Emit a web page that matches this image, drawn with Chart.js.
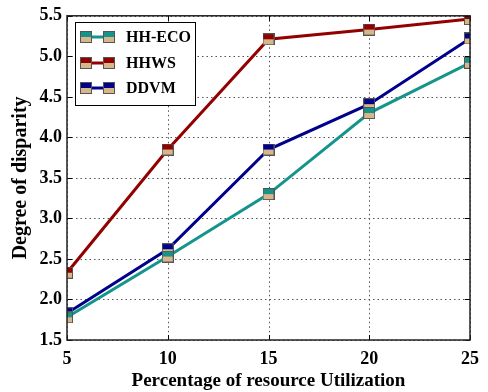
<!DOCTYPE html>
<html><head><meta charset="utf-8">
<script src="https://cdn.jsdelivr.net/npm/chart.js@4.4.0/dist/chart.umd.min.js"></script>
<style>html,body{margin:0;padding:0;background:#fff}#wrap{width:488px;height:392px}</style>
</head><body><div id="wrap"><canvas id="c" width="488" height="392"></canvas></div>
<script>
const xValues = [5, 10, 15, 20, 25];
const hhEco = [1.78, 2.53, 3.30, 4.30, 4.92];
const hhws = [2.33, 3.85, 5.21, 5.33, 5.46];
const ddvm = [1.83, 2.62, 3.85, 4.41, 5.22];
const seriesNames = ['HH-ECO', 'HHWS', 'DDVM'];
const seriesColors = ['#14948a', '#930000', '#00008c'];
const yTicks = [1.5, 2.0, 2.5, 3.0, 3.5, 4.0, 4.5, 5.0, 5.5];
const TAN = '#d7b689';

function makeMarker(color, s) {
  const c = document.createElement('canvas');
  c.width = s; c.height = s;
  const g = c.getContext('2d');
  g.fillStyle = color; g.fillRect(0, 0, s, s / 2);
  g.fillStyle = TAN; g.fillRect(0, s / 2, s, s / 2);
  g.strokeStyle = '#555'; g.lineWidth = 1;
  g.strokeRect(0.5, 0.5, s - 1, s - 1);
  return c;
}
const markers = seriesColors.map(c => makeMarker(c, 12));
const allData = [hhEco, hhws, ddvm];

const datasets = allData.map((d, i) => ({
  label: seriesNames[i],
  data: d.map((v, j) => ({x: xValues[j], y: v})),
  borderColor: seriesColors[i],
  borderWidth: 3,
  pointStyle: markers[i],
  pointRadius: 6,
  pointHoverRadius: 6,
  clip: 0,
  tension: 0
}));

const SERIF = "'Liberation Serif', 'DejaVu Serif', serif";

const gridPlugin = {
  id: 'gridDots',
  beforeDatasetsDraw(chart) {
    const {ctx, chartArea: a, scales} = chart;
    ctx.save();
    ctx.strokeStyle = '#555'; ctx.lineWidth = 1;
    ctx.setLineDash([1.5, 3]);
    ctx.beginPath();
    xValues.forEach(v => {
      const x = Math.round(scales.x.getPixelForValue(v)) + 0.5;
      ctx.moveTo(x, a.top); ctx.lineTo(x, a.bottom);
    });
    yTicks.forEach(v => {
      const y = Math.round(scales.y.getPixelForValue(v)) + 0.5;
      ctx.moveTo(a.left, y); ctx.lineTo(a.right, y);
    });
    ctx.stroke();
    ctx.restore();
  }
};

const deco = {
  id: 'deco',
  afterDatasetsDraw(chart) {
    const {ctx, chartArea: a, scales} = chart;
    ctx.save();
    ctx.strokeStyle = '#000'; ctx.lineWidth = 1;
    ctx.beginPath();
    xValues.forEach(v => {
      const x = Math.round(scales.x.getPixelForValue(v)) + 0.5;
      ctx.moveTo(x, a.bottom); ctx.lineTo(x, a.bottom - 5);
      ctx.moveTo(x, a.top); ctx.lineTo(x, a.top + 5);
    });
    yTicks.forEach(v => {
      const y = Math.round(scales.y.getPixelForValue(v)) + 0.5;
      ctx.moveTo(a.left, y); ctx.lineTo(a.left + 5, y);
      ctx.moveTo(a.right, y); ctx.lineTo(a.right - 5, y);
    });
    ctx.stroke();
    ctx.lineWidth = 1.5; ctx.strokeStyle = '#222';
    ctx.strokeRect(a.left, a.top, a.right - a.left, a.bottom - a.top);
    // legend
    const lx = 75, ly = 22, lw = 120, lh = 83;
    ctx.fillStyle = '#fff';
    ctx.fillRect(lx, ly, lw, lh);
    ctx.lineWidth = 1; ctx.strokeStyle = '#000';
    ctx.strokeRect(lx + 0.5, ly + 0.5, lw, lh);
    const rows = [37, 63, 88];
    ctx.font = 'bold 16px ' + SERIF;
    ctx.textBaseline = 'middle';
    ctx.textAlign = 'left';
    rows.forEach((yy, i) => {
      ctx.strokeStyle = seriesColors[i]; ctx.lineWidth = 3;
      ctx.beginPath(); ctx.moveTo(84, yy); ctx.lineTo(109, yy); ctx.stroke();
      ctx.drawImage(markers[i], 80, yy - 6);
      ctx.drawImage(markers[i], 103, yy - 6);
      ctx.fillStyle = '#000';
      ctx.fillText(seriesNames[i], 126, yy + 1);
    });
    ctx.restore();
  }
};

new Chart(document.getElementById('c'), {
  type: 'line',
  data: {datasets},
  options: {
    responsive: false,
    animation: false,
    events: [],
    layout: {padding: {top: 12, right: 14, left: 0, bottom: 0}},
    plugins: {legend: {display: false}, tooltip: {enabled: false}},
    scales: {
      x: {
        type: 'linear', min: 5, max: 25,
        afterBuildTicks(s) { s.ticks = xValues.map(v => ({value: v})); },
        afterFit(s) { s.height = 52; },
        grid: {display: false, drawTicks: false},
        border: {display: false},
        ticks: {color: '#000', padding: 9, font: {family: SERIF, weight: 'bold', size: 18}, maxRotation: 0},
        title: {display: true, text: 'Percentage of resource Utilization', color: '#000',
          font: {family: SERIF, weight: 'bold', size: 19}, padding: {top: 0, bottom: 0}}
      },
      y: {
        type: 'linear', min: 1.5, max: 5.5,
        afterBuildTicks(s) { s.ticks = yTicks.map(v => ({value: v})); },
        afterFit(s) { s.width = 67; },
        grid: {display: false, drawTicks: false},
        border: {display: false},
        ticks: {color: '#000', padding: 5, font: {family: SERIF, weight: 'bold', size: 18},
          callback: v => Number(v).toFixed(1)},
        title: {display: true, text: 'Degree of disparity', color: '#000',
          font: {family: SERIF, weight: 'bold', size: 20}, padding: {top: 9, bottom: 0}}
      }
    }
  },
  plugins: [gridPlugin, deco]
});
</script></body></html>
